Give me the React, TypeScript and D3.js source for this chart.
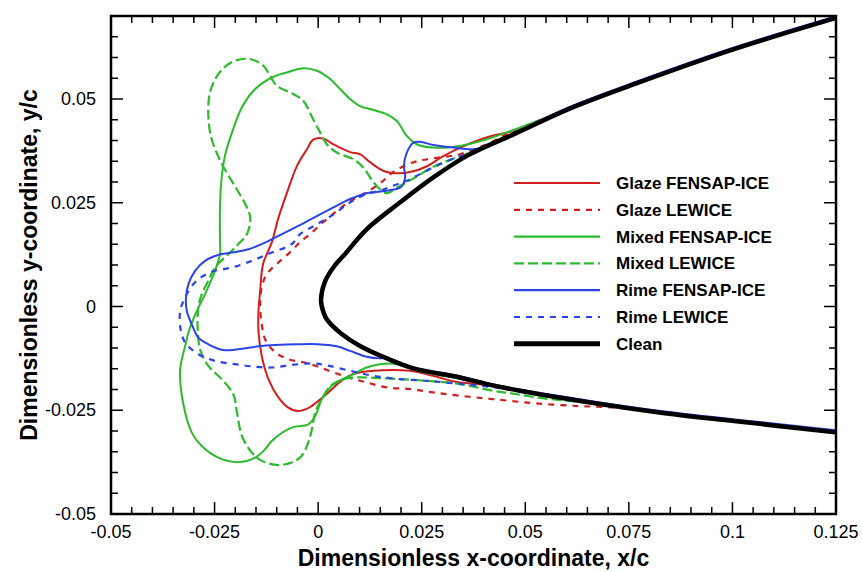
import React from 'react';
import * as d3 from 'd3';

// x/c, y/c values
const clean = [
  [0.1249, 0.0695], [0.1004, 0.062], [0.0753, 0.0532], [0.0603, 0.0475], [0.0479, 0.0418],
  [0.0359, 0.0363], [0.0278, 0.0311], [0.0198, 0.0251], [0.0117, 0.0186], [0.0061, 0.0122],
  [0.0041, 0.01], [0.0017, 0.0061], [0.0007, 0.0013], [0.0013, -0.0014], [0.0021, -0.0031],
  [0.0053, -0.0063], [0.0101, -0.0095], [0.0166, -0.0125], [0.023, -0.0149], [0.0342, -0.0171],
  [0.0407, -0.0187], [0.0487, -0.0203], [0.068, -0.0235], [0.0837, -0.0257], [0.1004, -0.0276],
  [0.1249, -0.0303],
];

const upperTail = [[0.1249, 0.0695], [0.1004, 0.062], [0.0753, 0.0532], [0.0603, 0.0475]];
const lowerTail = [[0.068, -0.0235], [0.0837, -0.0257], [0.1004, -0.0276], [0.1249, -0.0303]];

const glazeFensap = [
  [0.0487, 0.0427], [0.0408, 0.0408], [0.035, 0.0386], [0.0301, 0.0362], [0.0263, 0.0338],
  [0.0222, 0.0324], [0.019, 0.0321], [0.0157, 0.0327], [0.0125, 0.0348], [0.0101, 0.0367],
  [0.0077, 0.0372], [0.0036, 0.0391], [0.0012, 0.0405], [-0.0012, 0.0402], [-0.0027, 0.0379],
  [-0.0051, 0.0339], [-0.0075, 0.0275], [-0.0097, 0.021], [-0.0111, 0.0157], [-0.0133, 0.0102],
  [-0.014, 0.0037], [-0.0144, -0.0011], [-0.0144, -0.006], [-0.0136, -0.012], [-0.012, -0.0175],
  [-0.0096, -0.0219], [-0.0073, -0.0243], [-0.0049, -0.0252], [-0.0024, -0.0245], [0.0, -0.0228],
  [0.0034, -0.0199], [0.0046, -0.0187], [0.0084, -0.0163], [0.0133, -0.0155], [0.0222, -0.0155],
  [0.0277, -0.0167], [0.0335, -0.0182], [0.0407, -0.0189], [0.0487, -0.0204],
];

const glazeLewice = [
  [0.047, 0.0422], [0.0407, 0.0391], [0.0342, 0.0367], [0.0277, 0.0357], [0.0229, 0.0347],
  [0.0181, 0.0324], [0.0157, 0.0303], [0.0117, 0.0275], [0.0077, 0.0254], [0.0045, 0.023],
  [0.0012, 0.0203], [-0.002, 0.0174], [-0.0044, 0.0155], [-0.0064, 0.0134], [-0.0096, 0.0106],
  [-0.0124, 0.0078], [-0.0136, 0.0047], [-0.014, 0.0006], [-0.0136, -0.0043], [-0.0128, -0.0079],
  [-0.0104, -0.011], [-0.0072, -0.0127], [-0.0032, -0.0135], [0.0005, -0.0147], [0.006, -0.0167],
  [0.0117, -0.0183], [0.0166, -0.0195], [0.0222, -0.0199], [0.0277, -0.0207], [0.0342, -0.0215],
  [0.042, -0.0223], [0.0521, -0.0233], [0.0629, -0.024], [0.0712, -0.0243], [0.0795, -0.0252],
];

const mixedFensap = [
  [0.0487, 0.0431], [0.0407, 0.0403], [0.0342, 0.0387], [0.0277, 0.0383], [0.0238, 0.0391],
  [0.0214, 0.0411], [0.019, 0.0447], [0.0166, 0.0463], [0.0132, 0.0474], [0.0101, 0.0483],
  [0.0077, 0.05], [0.0053, 0.0524], [0.0029, 0.0548], [-0.0003, 0.0568], [-0.0036, 0.0574],
  [-0.0076, 0.0564], [-0.0109, 0.0553], [-0.0152, 0.0524], [-0.0184, 0.048], [-0.0208, 0.0419],
  [-0.0225, 0.0363], [-0.0234, 0.03], [-0.0237, 0.0234], [-0.0237, 0.0162], [-0.0237, 0.0126],
  [-0.0249, 0.0086], [-0.0273, 0.003], [-0.0293, -0.0011], [-0.0312, -0.0059], [-0.0321, -0.0095],
  [-0.0333, -0.0151], [-0.0329, -0.0215], [-0.0305, -0.0304], [-0.0281, -0.0336], [-0.0241, -0.0364],
  [-0.0193, -0.0375], [-0.0152, -0.0364], [-0.0128, -0.0344], [-0.0112, -0.0324], [-0.0064, -0.0292],
  [-0.0024, -0.0284], [-0.0007, -0.0264], [0.0009, -0.0223], [0.0033, -0.0191], [0.0053, -0.0178],
  [0.0077, -0.0167], [0.0117, -0.0147], [0.0149, -0.0139], [0.019, -0.0139], [0.0229, -0.0151],
  [0.0277, -0.0163], [0.0326, -0.0171], [0.0407, -0.0187], [0.0487, -0.0203],
];

const mixedLewice = [
  [0.0479, 0.0421], [0.0407, 0.0386], [0.0342, 0.0362], [0.0277, 0.0336], [0.0229, 0.0308],
  [0.019, 0.0286], [0.0166, 0.0273], [0.0149, 0.0283], [0.0133, 0.03], [0.0109, 0.0335],
  [0.0085, 0.0355], [0.0045, 0.0371], [0.0021, 0.0391], [0.0005, 0.0419], [-0.0012, 0.0451],
  [-0.0036, 0.0496], [-0.006, 0.0512], [-0.01, 0.0532], [-0.0116, 0.0556], [-0.0132, 0.058],
  [-0.0156, 0.0594], [-0.0176, 0.0597], [-0.021, 0.0588], [-0.0241, 0.056], [-0.0261, 0.0516],
  [-0.0265, 0.0459], [-0.0257, 0.0403], [-0.0232, 0.0343], [-0.0201, 0.029], [-0.0176, 0.0247],
  [-0.0164, 0.0214], [-0.0172, 0.0174], [-0.0193, 0.015], [-0.0217, 0.0126], [-0.0249, 0.0094],
  [-0.0265, 0.0062], [-0.0281, 0.003], [-0.0289, -0.0002], [-0.0291, -0.0045], [-0.0285, -0.0103],
  [-0.0265, -0.0143], [-0.0233, -0.0175], [-0.0205, -0.0211], [-0.0196, -0.0255], [-0.0184, -0.0312],
  [-0.016, -0.0352], [-0.0136, -0.0372], [-0.0096, -0.0382], [-0.0064, -0.0376], [-0.004, -0.036],
  [-0.0024, -0.0328], [-0.0015, -0.0296], [-0.0007, -0.0255], [0.0009, -0.0223], [0.0029, -0.0192],
  [0.0061, -0.0175], [0.0093, -0.0171], [0.0141, -0.0172], [0.0198, -0.0175], [0.0262, -0.0179],
  [0.0342, -0.0187], [0.0422, -0.0203], [0.047, -0.021], [0.0541, -0.0221],
];

const rimeFensap = [
  [0.1249, 0.0699], [0.1004, 0.0624], [0.0753, 0.0536], [0.0603, 0.0479],
  [0.0471, 0.0417], [0.0407, 0.0387], [0.0375, 0.0379], [0.0326, 0.0383], [0.0278, 0.0389],
  [0.0246, 0.0397], [0.023, 0.0395], [0.0214, 0.0371], [0.0207, 0.0339], [0.021, 0.0311],
  [0.02, 0.0288], [0.0173, 0.028], [0.0141, 0.0276], [0.0117, 0.0273], [0.0101, 0.0268],
  [0.0077, 0.0259], [0.0037, 0.0239], [-0.0003, 0.0218], [-0.0044, 0.0196], [-0.0096, 0.017],
  [-0.0128, 0.0154], [-0.0168, 0.0138], [-0.0208, 0.013], [-0.0241, 0.0124], [-0.0273, 0.011],
  [-0.0297, 0.0086], [-0.0313, 0.0054], [-0.0319, 0.0022], [-0.0317, -0.0011], [-0.0305, -0.0043],
  [-0.0289, -0.0075], [-0.0265, -0.0091], [-0.0229, -0.0105], [-0.0193, -0.0103], [-0.0144, -0.0096],
  [-0.0104, -0.0093], [-0.0048, -0.0091], [0.0, -0.0091], [0.0045, -0.0096], [0.0077, -0.0107],
  [0.0117, -0.0121], [0.0149, -0.0125], [0.0166, -0.0124], [0.023, -0.0147], [0.0342, -0.0168],
  [0.0407, -0.0184], [0.0487, -0.02], [0.068, -0.0231], [0.0837, -0.0253], [0.1004, -0.0272],
  [0.1249, -0.0298],
];

const rimeLewice = [
  [0.0455, 0.0405], [0.0391, 0.0379], [0.0334, 0.0359], [0.0294, 0.0343], [0.0246, 0.0319],
  [0.0214, 0.0303], [0.0181, 0.0291], [0.0149, 0.0279], [0.0117, 0.0271], [0.0077, 0.0251],
  [0.0037, 0.0222], [-0.0003, 0.0198], [-0.0044, 0.0174], [-0.0064, 0.015], [-0.0112, 0.013],
  [-0.016, 0.011], [-0.0208, 0.0094], [-0.0249, 0.0086], [-0.0277, 0.0074], [-0.0301, 0.0054],
  [-0.0321, 0.0022], [-0.0333, -0.0011], [-0.0332, -0.0055], [-0.0321, -0.0087], [-0.0289, -0.0115],
  [-0.0249, -0.0131], [-0.0201, -0.0139], [-0.0152, -0.0145], [-0.0112, -0.0147], [-0.0064, -0.0141],
  [-0.0015, -0.0137], [0.0021, -0.0142], [0.0077, -0.0155], [0.0133, -0.0167], [0.0198, -0.0175],
  [0.0262, -0.0179], [0.0326, -0.0185], [0.0391, -0.0191], [0.0455, -0.0199], [0.0504, -0.0208],
];

const xTickValues = [-0.05, -0.025, 0, 0.025, 0.05, 0.075, 0.1, 0.125];
const xTickLabels = ['-0.05', '-0.025', '0', '0.025', '0.05', '0.075', '0.1', '0.125'];
const yTickValues = [-0.05, -0.025, 0, 0.025, 0.05];
const yTickLabels = ['-0.05', '-0.025', '0', '0.025', '0.05'];

const series = [
  { name: 'Glaze FENSAP-ICE', pts: [...upperTail, ...glazeFensap, ...lowerTail], color: '#d21e1e', dash: null, w: 2 },
  { name: 'Glaze LEWICE', pts: [...upperTail, ...glazeLewice, ...lowerTail.slice(1)], color: '#d21e1e', dash: '6,6', w: 2.2 },
  { name: 'Mixed FENSAP-ICE', pts: [...upperTail, ...mixedFensap, ...lowerTail], color: '#2cbb2c', dash: null, w: 2 },
  { name: 'Mixed LEWICE', pts: [...upperTail, ...mixedLewice, ...lowerTail], color: '#2cbb2c', dash: '10,4', w: 2.2 },
  { name: 'Rime FENSAP-ICE', pts: rimeFensap, color: '#2b44e6', dash: null, w: 2 },
  { name: 'Rime LEWICE', pts: [...upperTail, ...rimeLewice, ...lowerTail], color: '#2b44e6', dash: '6,6', w: 2.2 },
  { name: 'Clean', pts: clean, color: '#000000', dash: null, w: 4.5 },
];

const W = 862, H = 572;
const left = 111, right = 836, top = 16, bottom = 514;

export default function App() {
  const x = d3.scaleLinear().domain([-0.05, 0.125]).range([left, right]);
  const y = d3.scaleLinear().domain([-0.05, 0.07]).range([bottom, top]);
  const line = d3.line<number[]>().x(d => x(d[0])).y(d => y(d[1])).curve(d3.curveCatmullRom.alpha(0.5));

  const xMinor = d3.range(-0.05, 0.1251, 0.005);
  const yMinor = d3.range(-0.05, 0.0701, 0.005);
  const isMajor = (v: number) => Math.abs(v / 0.025 - Math.round(v / 0.025)) < 1e-6;

  const font = 'Liberation Sans, Arial, Helvetica, sans-serif';
  const legendY = (i: number) => 183 + i * 26.8;

  return (
    <svg width={W} height={H} style={{ position: 'absolute', left: 0, top: 0, background: '#fff' }} fontFamily={font}>
      <rect width={W} height={H} fill="#fff" />
      <defs>
        <clipPath id="plot">
          <rect x={left} y={top} width={right - left} height={bottom - top} />
        </clipPath>
      </defs>
      <g clipPath="url(#plot)">
        {series.map(s => (
          <path key={s.name} d={line(s.pts as number[][]) || ''} fill="none" stroke={s.color}
            strokeWidth={s.w} strokeDasharray={s.dash || undefined} strokeLinejoin="round" />
        ))}
      </g>

      {/* ticks, inward on all four sides */}
      {xMinor.map((v, i) => {
        const len = isMajor(v) ? 12 : 7;
        return (
          <g key={'xt' + i} stroke="#000" strokeWidth={1.5}>
            <line x1={x(v)} x2={x(v)} y1={bottom} y2={bottom - len} />
            <line x1={x(v)} x2={x(v)} y1={top} y2={top + len} />
          </g>
        );
      })}
      {yMinor.map((v, i) => {
        const len = isMajor(v) ? 12 : 7;
        return (
          <g key={'yt' + i} stroke="#000" strokeWidth={1.5}>
            <line x1={left} x2={left + len} y1={y(v)} y2={y(v)} />
            <line x1={right} x2={right - len} y1={y(v)} y2={y(v)} />
          </g>
        );
      })}
      <rect x={left} y={top} width={right - left} height={bottom - top} fill="none" stroke="#000" strokeWidth={2.5} />

      {xTickValues.map((v, i) => (
        <text key={'xl' + i} x={x(v)} y={538} fontSize={18} textAnchor="middle">{xTickLabels[i]}</text>
      ))}
      {yTickValues.map((v, i) => (
        <text key={'yl' + i} x={96} y={y(v) + 6} fontSize={18} textAnchor="end">{yTickLabels[i]}</text>
      ))}

      <text x={(left + right) / 2} y={566} fontSize={23} fontWeight="bold" textAnchor="middle">
        Dimensionless x-coordinate, x/c
      </text>
      <text transform={`translate(37, ${(top + bottom) / 2}) rotate(-90)`} fontSize={23} fontWeight="bold" textAnchor="middle">
        Dimensionless y-coordinate, y/c
      </text>

      {series.map((s, i) => (
        <g key={'lg' + i}>
          <line x1={514} x2={600} y1={legendY(i)} y2={legendY(i)} stroke={s.color}
            strokeWidth={s.name === 'Clean' ? 5 : 2.2} strokeDasharray={s.dash || undefined} />
          <text x={616} y={legendY(i) + 6} fontSize={17} fontWeight="bold">{s.name}</text>
        </g>
      ))}
    </svg>
  );
}
